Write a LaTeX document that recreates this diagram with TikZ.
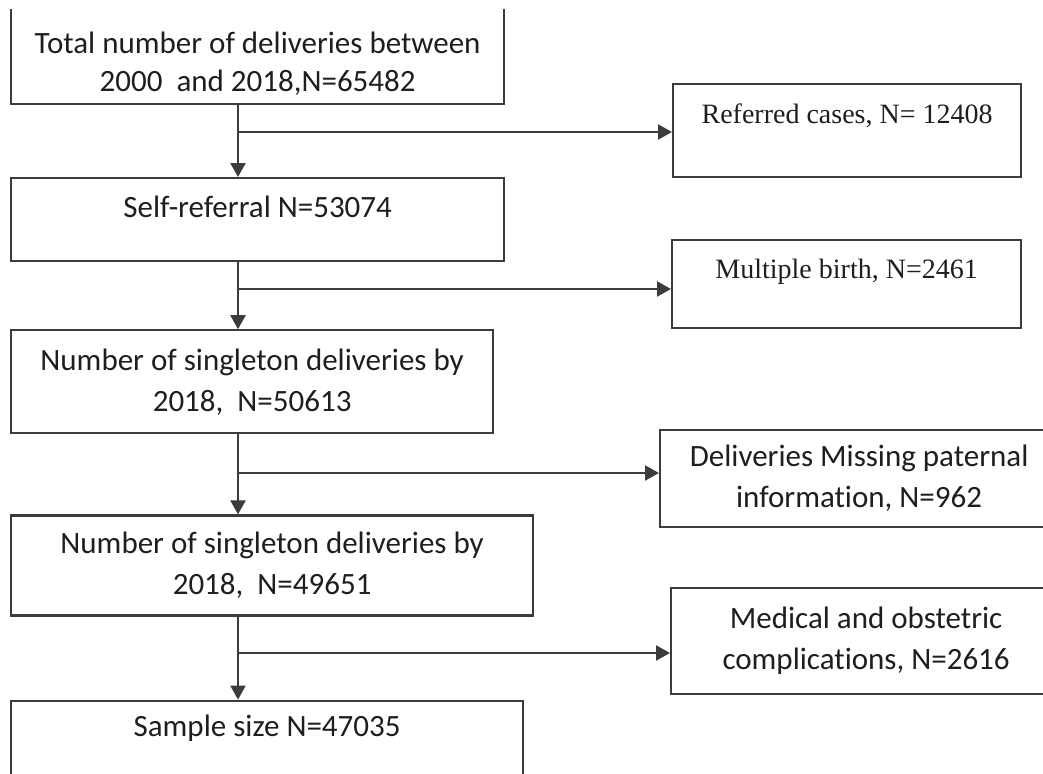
\documentclass[tikz,border=0pt]{standalone}
\usepackage{fontspec}
\setmainfont{Carlito}[Ligatures=CommonOff]
\newfontfamily\timesfont{Liberation Serif}
\usetikzlibrary{arrows.meta, positioning}
\definecolor{boxline}{RGB}{60,60,60}
\definecolor{boxtext}{RGB}{30,30,30}
\tikzset{
    flowbox/.style={rectangle, draw=boxline, line width=2.2pt, align=center, text=boxtext, font=\fontsize{31}{41}\selectfont, inner xsep=6pt, inner ysep=8pt},
    exclbox/.style={flowbox},
    timesbox/.style={flowbox, font=\timesfont\fontsize{28}{36}\selectfont},
    arrow/.style={-{Triangle[length=14pt, width=15pt]}, draw=boxline, line width=2.2pt},
}

\begin{document}
\begin{tikzpicture}[x=1pt, y=-1pt]
\useasboundingbox (0,0) rectangle (1043,773);
\clip (0,10) rectangle (1043,773);

% Main column
\node[flowbox, font=\fontsize{31}{38}\selectfont, anchor=south west, minimum width=493pt] (total) at (10,105) {\rule{0pt}{100pt}Total number of deliveries between\\2000~ and 2018,N=65482};
\node[flowbox, minimum width=493pt, minimum height=83pt, text height=22pt, text depth=27pt, below=72pt of total.south west, anchor=north west] (selfref) {Self-referral N=53074};
\node[flowbox, minimum width=482pt, minimum height=103pt, below=67pt of selfref.south west, anchor=north west] (single1) {Number of singleton deliveries by\\2018,~ N=50613};
\node[flowbox, minimum width=522pt, minimum height=100pt, below=80pt of single1.south west, anchor=north west] (single2) {Number of singleton deliveries by\\2018,~ N=49651};
\node[flowbox, minimum width=512pt, minimum height=160pt, text height=22pt, text depth=110pt, below=83pt of single2.south west, anchor=north west] (sample) {Sample size N=47035};

% Excluded cases
\node[timesbox, anchor=north west, minimum width=348pt, minimum height=93pt, text height=20pt, text depth=34pt] (referred) at (672,83) {Referred cases, N= 12408};
\node[timesbox, anchor=north west, minimum width=349pt, minimum height=88pt, text height=20pt, text depth=31pt] (multiple) at (671,239) {Multiple birth, N=2461};
\node[exclbox, anchor=north west, minimum width=398pt, minimum height=97pt] (paternal) at (659,429) {Deliveries Missing paternal\\information, N=962};
\node[exclbox, anchor=north west, minimum width=390pt, minimum height=106pt] (medical) at (670,587) {Medical and obstetric\\complications, N=2616};

% Stem and branch points
\coordinate (stem) at (238,0);
\coordinate (j1) at (238,132);
\coordinate (j2) at (238,289);
\coordinate (j3) at (238,473);
\coordinate (j4) at (238,653);

% Arrows
\draw[arrow] (total.south -| stem) -- (selfref.north -| stem);
\draw[arrow] (selfref.south -| stem) -- (single1.north -| stem);
\draw[arrow] (single1.south -| stem) -- (single2.north -| stem);
\draw[arrow] (single2.south -| stem) -- (sample.north -| stem);
\draw[arrow] (j1) -- (j1 -| referred.west);
\draw[arrow] (j2) -- (j2 -| multiple.west);
\draw[arrow] (j3) -- (j3 -| paternal.west);
\draw[arrow] (j4) -- (j4 -| medical.west);

\end{tikzpicture}
\end{document}
